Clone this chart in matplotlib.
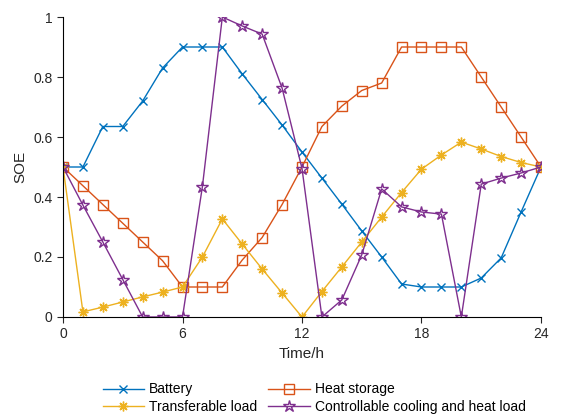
import numpy as np
import matplotlib
matplotlib.use("Agg")
import matplotlib.pyplot as plt

plt.rcParams['font.family'] = ['Liberation Sans', 'DejaVu Sans']

hours = list(range(25))

battery = [0.5, 0.5, 0.635, 0.635, 0.72, 0.83, 0.9, 0.9, 0.9, 0.81, 0.725,
           0.64, 0.55, 0.463, 0.376, 0.287, 0.2, 0.11, 0.1, 0.1, 0.1, 0.13,
           0.197, 0.35, 0.5]
heat_storage = [0.5, 0.4375, 0.375, 0.3125, 0.25, 0.1875, 0.1, 0.1, 0.1, 0.19,
                0.265, 0.375, 0.5, 0.635, 0.703, 0.755, 0.78, 0.9, 0.9, 0.9,
                0.9, 0.8, 0.7, 0.6, 0.5]
transferable = [0.5, 0.017, 0.033, 0.05, 0.067, 0.083, 0.1, 0.2, 0.327, 0.243,
                0.16, 0.08, 0.0, 0.085, 0.167, 0.25, 0.333, 0.415, 0.493,
                0.54, 0.583, 0.56, 0.535, 0.515, 0.5]
cooling_heat = [0.5, 0.373, 0.25, 0.125, 0.0, 0.0, 0.0, 0.435, 1.0, 0.97,
                0.943, 0.763, 0.495, 0.0, 0.057, 0.207, 0.427, 0.367, 0.35,
                0.343, 0.0, 0.443, 0.463, 0.48, 0.5]

labels = ["Battery", "Heat storage", "Transferable load",
          "Controllable cooling and heat load"]
colors = ["#0072BD", "#D95319", "#EDB120", "#7E2F8E"]

fig = plt.figure(figsize=(5.61, 4.17), dpi=100)
ax = fig.add_axes([63 / 561, 1 - 317 / 417, 478 / 561, 300 / 417])

l1, = ax.plot(hours, battery, color=colors[0], lw=1, marker='x', ms=6,
              mew=1, label=labels[0])
l2, = ax.plot(hours, heat_storage, color=colors[1], lw=1, marker='s', ms=6.5,
              mfc='none', mew=1, label=labels[1])
l3, = ax.plot(hours, transferable, color=colors[2], lw=1, marker=(8, 2, 0),
              ms=7, mew=1, label=labels[2])
l4, = ax.plot(hours, cooling_heat, color=colors[3], lw=1, marker='*', ms=9,
              mfc='none', mew=1, label=labels[3])

ax.set_xlim(0, 24)
ax.set_ylim(0, 1)
ax.set_xticks([0, 6, 12, 18, 24])
ax.set_yticks([0, 0.2, 0.4, 0.6, 0.8, 1])
ax.set_yticklabels(["0", "0.2", "0.4", "0.6", "0.8", "1"])
ax.spines['top'].set_visible(False)
ax.spines['right'].set_visible(False)
ax.tick_params(direction='out', length=4, width=0.8, labelsize=10,
               colors='#262626')
ax.set_xlabel("Time/h", fontsize=11, color='#262626')
ax.set_ylabel("SOE", fontsize=11, color='#262626')

# legend filled row by row like the original
fig.legend(handles=[l1, l3, l2, l4], ncol=2, loc='center',
           bbox_to_anchor=(0.56, 0.045), frameon=False, fontsize=10,
           handlelength=3.0, columnspacing=0.8, labelspacing=0.25,
           handletextpad=0.35)

fig.savefig("out.png", dpi=100)
